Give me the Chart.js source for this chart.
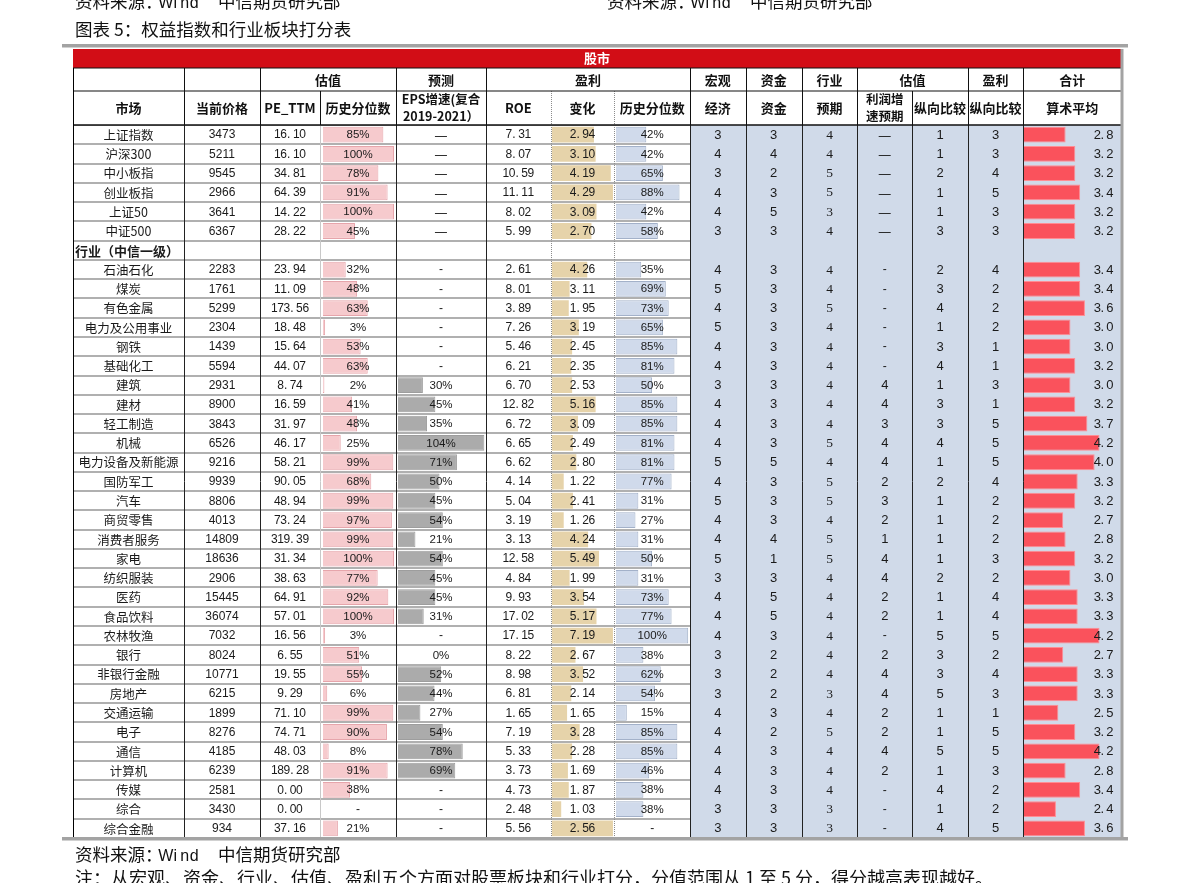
<!DOCTYPE html>
<html>
<head>
<meta charset="utf-8">
<title>权益指数和行业板块打分表</title>
<script src="https://cdn.jsdelivr.net/npm/chart.js@4.4.1/dist/chart.umd.min.js"></script>
<style>
  html, body { margin: 0; padding: 0; background: #fff; }
  canvas { display: block; }
</style>
</head>
<body>
<canvas id="myChart" width="1191" height="883"></canvas>
<script>
// rows: 6 indices, then the "行业（中信一级）" group row (all empty), then 30 industries
const rowNames = ['上证指数','沪深300','中小板指','创业板指','上证50','中证500','行业（中信一级）',
  '石油石化','煤炭','有色金属','电力及公用事业','钢铁','基础化工','建筑','建材','轻工制造','机械',
  '电力设备及新能源','国防军工','汽车','商贸零售','消费者服务','家电','纺织服装','医药','食品饮料',
  '农林牧渔','银行','非银行金融','房地产','交通运输','电子','通信','计算机','传媒','综合','综合金融'];
const price = [3473,5211,9545,2966,3641,6367,null,2283,1761,5299,2304,1439,5594,2931,8900,3843,6526,
  9216,9939,8806,4013,14809,18636,2906,15445,36074,7032,8024,10771,6215,1899,8276,4185,6239,2581,3430,934];
const peTtm = [16.10,16.10,34.81,64.39,14.22,28.22,null,23.94,11.09,173.56,18.48,15.64,44.07,8.74,16.59,
  31.97,46.17,58.21,90.05,48.94,73.24,319.39,31.34,38.63,64.91,57.01,16.56,6.55,19.55,9.29,71.10,74.71,
  48.03,189.28,0.00,0.00,37.16];
const pePct = [85,100,78,91,100,45,null,32,48,63,3,53,63,2,41,48,25,99,68,99,97,99,100,77,92,100,3,51,55,
  6,99,90,8,91,38,null,21];
const epsGrowth = [null,null,null,null,null,null,null,null,null,null,null,null,null,30,45,35,104,71,50,45,
  54,21,54,45,45,31,null,0,52,44,27,54,78,69,null,null,null];
const roe = [7.31,8.07,10.59,11.11,8.02,5.99,null,2.61,8.01,3.89,7.26,5.46,6.21,6.70,12.82,6.72,6.65,6.62,
  4.14,5.04,3.19,3.13,12.58,4.84,9.93,17.02,17.15,8.22,8.98,6.81,1.65,7.19,5.33,3.73,4.73,2.48,5.56];
const roeChg = [2.94,3.10,4.19,4.29,3.09,2.70,null,4.26,3.11,1.95,3.19,2.45,2.35,2.53,5.16,3.09,2.49,2.80,
  1.22,2.41,1.26,4.24,5.49,1.99,3.54,5.17,7.19,2.67,3.52,2.14,1.65,3.28,2.28,1.69,1.87,1.03,2.56];
// data-bar lengths in the 变化 column (they do not always follow the label)
const roeChgBar = [5.0,5.2,7.0,7.26,5.3,4.7,null,4.2,2.1,2.0,3.2,2.4,2.3,2.4,5.2,3.1,2.5,2.9,1.4,2.5,1.4,
  4.3,5.6,2.1,3.8,5.3,7.26,2.8,3.7,2.3,1.8,3.3,2.4,1.9,2.0,1.1,7.26];
const roePct = [42,42,65,88,42,58,null,35,69,73,65,85,81,50,85,85,81,81,77,31,27,31,50,31,73,77,100,38,62,
  54,15,85,85,46,38,38,null];
const macro = [3,4,3,4,4,3,null,4,5,4,5,4,4,3,4,4,4,5,4,5,4,4,5,3,4,4,4,3,3,3,4,4,4,4,4,3,3];
const fund = [3,4,2,3,5,3,null,3,3,3,3,3,3,3,3,3,3,5,3,3,3,4,1,3,5,5,3,2,2,2,3,2,3,3,3,3,3];
const indOutlook = [4,4,5,5,3,4,null,4,4,5,4,4,4,4,4,4,5,4,5,5,4,5,5,4,4,4,4,4,4,3,4,5,4,4,4,3,3];
const profitOutlook = [null,null,null,null,null,null,null,null,null,null,null,null,null,4,4,3,4,4,2,3,2,1,
  4,4,2,2,null,2,4,4,2,2,4,2,null,null,null];
const valueCmp = [1,1,2,1,1,3,null,2,3,4,1,3,4,1,3,3,4,1,2,1,1,1,1,2,1,1,5,3,3,5,1,1,5,1,4,1,4];
const profitCmp = [3,3,4,5,3,3,null,4,2,2,2,1,1,3,1,5,5,5,4,2,2,2,3,2,4,4,5,2,4,3,1,5,5,3,2,2,5];
const avgScore = [2.8,3.2,3.2,3.4,3.2,3.2,null,3.4,3.4,3.6,3.0,3.0,3.2,3.0,3.2,3.7,4.2,4.0,3.3,3.2,2.7,2.8,
  3.2,3.0,3.3,3.3,4.2,2.7,3.3,3.3,2.5,3.2,4.2,2.8,3.4,2.4,3.6];

const head2 = [['',0,0],['',1,1],['估值',2,3],['预测',4,4],['盈利',5,7],['宏观',8,8],['资金',9,9],
  ['行业',10,10],['估值',11,12],['盈利',13,13],['合计',14,14]];
const head3 = ['市场','当前价格','PE_TTM','历史分位数',['EPS增速(复合','2019-2021）'],'ROE','变化','历史分位数',
  '经济','资金','预期',['利润增','速预期'],'纵向比较','纵向比较','算术平均'];

const SECTION = 6;
const CJK = "'Noto Sans CJK SC', 'Noto Sans', sans-serif";
const SANS = "'Liberation Sans', Arial, sans-serif";
const SERIF = "'Liberation Serif', 'Times New Roman', serif";

// column widths (one x axis per column, stacked side by side)
const colWidths = [111, 76, 60, 76, 90, 64.7, 63.6, 75.7, 55.7, 56, 55.6, 55, 55.4, 55.6, 97.7];
const colRange = { 3: [-4.2, 102.8], 4: [-2.4, 106], 6: [-0.15, 7.42], 7: [-2.3, 102.5], 14: [1.05, 5.09] };

const scales = {
  y: {
    type: 'category', position: 'left', offset: true,
    ticks: { display: false },
    border: { display: false },
    grid: { offset: true, drawTicks: false, color: '#b0b0b0', lineWidth: 2 }
  }
};
colWidths.forEach((w, i) => {
  const r = colRange[i] || [0, 1];
  scales['c' + i] = {
    type: 'linear', position: 'bottom', stack: 'table', stackWeight: w,
    min: r[0], max: r[1],
    ticks: { display: false },
    grid: { display: false, drawTicks: false },
    border: { display: false }
  };
});

function spaced(ctx, str, x, y, adv, align) {
  const w = str.length * adv;
  let p = align === 'right' ? x - w : (align === 'left' ? x : x - w / 2);
  ctx.textAlign = 'center';
  for (const ch of str) {
    ctx.fillText(ch, ch === '.' ? p + adv * 0.3 : p + adv / 2, y);
    p += adv;
  }
}

function vline(ctx, x, y0, y1, color, dashed) {
  ctx.beginPath();
  ctx.strokeStyle = color;
  ctx.lineWidth = 1;
  ctx.setLineDash(dashed ? [1, 1] : []);
  const px = Math.round(x) + 0.5;
  ctx.moveTo(px, y0);
  ctx.lineTo(px, y1);
  ctx.stroke();
  ctx.setLineDash([]);
}

function hline(ctx, x0, x1, y, color, w) {
  ctx.fillStyle = color;
  ctx.fillRect(x0, Math.round(y) - w / 2, x1 - x0, w);
}

// "资料来源：Wind  中信期货研究部", y = vertical centre of the line
function source(ctx, x, y) {
  const base = y + 6.5;
  ctx.textBaseline = 'alphabetic';
  ctx.textAlign = 'left';
  ctx.font = '17.5px ' + CJK;
  ctx.fillText('资料来源：', x, base);
  ctx.font = '16px ' + SANS;
  spaced(ctx, 'Wind', x + 86, base, 9.5, 'left');
  ctx.font = '17.5px ' + CJK;
  ctx.textAlign = 'left';
  ctx.fillText('中信期货研究部', x + 143, base);
  ctx.textBaseline = 'middle';
}

function drawCells(chart) {
  const { ctx, scales: s } = chart;
  const mid = k => (s['c' + k].left + s['c' + k].right) / 2;
  ctx.save();
  ctx.fillStyle = '#1a1a1a';
  ctx.textBaseline = 'middle';
  rowNames.forEach((name, i) => {
    const cy = s.y.getPixelForValue(i) + 0.5;
    const put = (k, str, font) => {
      ctx.font = font; ctx.textAlign = 'center'; ctx.fillText(str, mid(k), cy);
    };
    const mono = (k, str) => { ctx.font = '12px ' + SANS; spaced(ctx, str, mid(k), cy, 6.3, 'center'); };
    const dash = k => (i < SECTION ? put(k, '—', '15px ' + CJK) : put(k, '-', '12px ' + SANS));
    const pct = (k, v) => (v === null ? dash(k) : put(k, v + '%', '11.5px ' + SANS));
    const score = (k, v, font) => (v === null ? dash(k) : put(k, String(v), font));

    if (i === SECTION) {
      ctx.font = 'bold 13px ' + CJK;
      ctx.textAlign = 'left';
      ctx.fillText(name, s.c0.left + 2, cy);
      return;
    }
    put(0, name, '12.5px ' + CJK);
    put(1, String(price[i]), '12px ' + SANS);
    mono(2, peTtm[i].toFixed(2));
    pct(3, pePct[i]);
    pct(4, epsGrowth[i]);
    mono(5, roe[i].toFixed(2));
    mono(6, roeChg[i].toFixed(2));
    pct(7, roePct[i]);
    score(8, macro[i], '13px ' + SANS);
    score(9, fund[i], '13px ' + SANS);
    score(10, indOutlook[i], '13.5px ' + SERIF);
    score(11, profitOutlook[i], '13px ' + SANS);
    score(12, valueCmp[i], '13px ' + SANS);
    score(13, profitCmp[i], '13px ' + SANS);
    ctx.font = '13px ' + SANS;
    spaced(ctx, avgScore[i].toFixed(1), s.c14.right - 8, cy, 6.3, 'right');
  });
  ctx.restore();
}

function drawFrame(chart) {
  const { ctx, chartArea: a, scales: s } = chart;
  const bandTop = a.top - 76, bandBot = a.top - 57, midLine = a.top - 34;
  const mid = (k0, k1) => (s['c' + k0].left + s['c' + k1].right) / 2;
  ctx.save();

  // data-area vertical borders
  for (let k = 0; k < 15; k++) {
    const x = s['c' + k].left;
    let color = '#222', dashed = false;
    if (k === 3) color = '#c8c8c8';
    if (k === 6 || k === 7) { color = '#8c8c8c'; dashed = true; }
    vline(ctx, x, a.top, a.bottom, color, dashed);
  }

  // header background + red band
  ctx.fillStyle = '#fff';
  ctx.fillRect(a.left, bandBot, a.right - a.left, a.top - bandBot);
  ctx.fillStyle = '#d20d16';
  ctx.fillRect(a.left, bandTop, a.right - a.left, bandBot - bandTop);
  ctx.fillStyle = '#fff';
  ctx.font = 'bold 13px ' + CJK;
  ctx.textAlign = 'center';
  ctx.textBaseline = 'middle';
  ctx.fillText('股市', (a.left + a.right) / 2, (bandTop + bandBot) / 2);

  // header row 2
  ctx.fillStyle = '#111';
  head2.forEach(([t, k0, k1]) => {
    vline(ctx, s['c' + k0].left, bandBot, midLine, '#111');
    if (t) ctx.fillText(t, mid(k0, k1), (bandBot + midLine) / 2 + 0.5);
  });
  // header row 3
  head3.forEach((t, k) => {
    const dashed = k === 6 || k === 7;
    vline(ctx, s['c' + k].left, midLine, a.top, dashed ? '#8c8c8c' : '#111', dashed);
    const cy = (midLine + a.top) / 2;
    if (Array.isArray(t)) {
      ctx.font = 'bold 12.5px ' + CJK;
      ctx.fillText(t[0], mid(k, k), cy - 8.5);
      ctx.fillText(t[1], mid(k, k), cy + 8.5);
    } else {
      ctx.font = 'bold 13px ' + CJK;
      ctx.fillText(t, mid(k, k), cy);
    }
  });
  hline(ctx, a.left, a.right, bandBot, '#111', 1);
  hline(ctx, a.left, a.right, midLine, '#111', 1);
  hline(ctx, a.left, a.right, a.top, '#111', 1.5);
  vline(ctx, a.left, bandBot, a.bottom, '#000');

  // outer gray rules
  ctx.fillStyle = '#a3a3a3';
  ctx.fillRect(a.right - 0.5, bandTop, 3, a.bottom - bandTop + 2);
  ctx.fillRect(a.left - 11, a.bottom - 1, a.right - a.left + 18, 3.5);
  ctx.fillRect(a.left - 11, bandTop - 5, a.right - a.left + 18, 3.5);

  // title, sources, note
  ctx.fillStyle = '#111';
  ctx.textAlign = 'left';
  ctx.font = '17.5px ' + CJK;
  ctx.fillText('图表 5：权益指数和行业板块打分表', a.left + 2, bandTop - 20);
  source(ctx, a.left + 2, 1);
  source(ctx, 607, 1);
  source(ctx, a.left + 2, a.bottom + 16);
  ctx.font = '18px ' + CJK;
  ctx.textAlign = 'left';
  ctx.fillText('注：从宏观、资金、行业、估值、盈利五个方面对股票板块和行业打分，分值范围从 1 至 5 分，得分越高表现越好。',
    a.left + 2, a.bottom + 40);
  ctx.restore();
}

const tablePlugin = {
  id: 'scoreTable',
  beforeDatasetsDraw(chart) {
    const { ctx, chartArea: a, scales: s } = chart;
    ctx.save();
    ctx.fillStyle = '#d0dae9';
    ctx.fillRect(s.c8.left, a.top, s.c14.right - s.c8.left, a.bottom - a.top);
    ctx.restore();
  },
  afterDatasetsDraw(chart) {
    drawFrame(chart);
    drawCells(chart);
  }
};

const ctx = document.getElementById('myChart');
new Chart(ctx, {
  type: 'bar',
  data: {
    labels: rowNames,
    datasets: [
      { data: pePct, xAxisID: 'c3', yAxisID: 'y', backgroundColor: '#f6cacd', borderColor: '#e6a5ab', borderWidth: 1 },
      { data: epsGrowth, xAxisID: 'c4', yAxisID: 'y', backgroundColor: '#ababab', borderColor: '#9d9d9d', borderWidth: 1 },
      { data: roeChgBar, xAxisID: 'c6', yAxisID: 'y', backgroundColor: '#e6d3aa', borderWidth: 0 },
      { data: roePct, xAxisID: 'c7', yAxisID: 'y', backgroundColor: '#d0daeb', borderColor: '#a3b1c9', borderWidth: 1 },
      { data: avgScore, xAxisID: 'c14', yAxisID: 'y', backgroundColor: '#fa525c', borderColor: '#ff8d94', borderWidth: 1 }
    ]
  },
  options: {
    indexAxis: 'y',
    responsive: false,
    animation: false,
    events: [],
    layout: { padding: { left: 73, right: 70, top: 125, bottom: 45 } },
    datasets: { bar: { grouped: false, barPercentage: 0.82, categoryPercentage: 1 } },
    scales: scales,
    plugins: { legend: { display: false }, tooltip: { enabled: false } }
  },
  plugins: [tablePlugin]
});
</script>
</body>
</html>
